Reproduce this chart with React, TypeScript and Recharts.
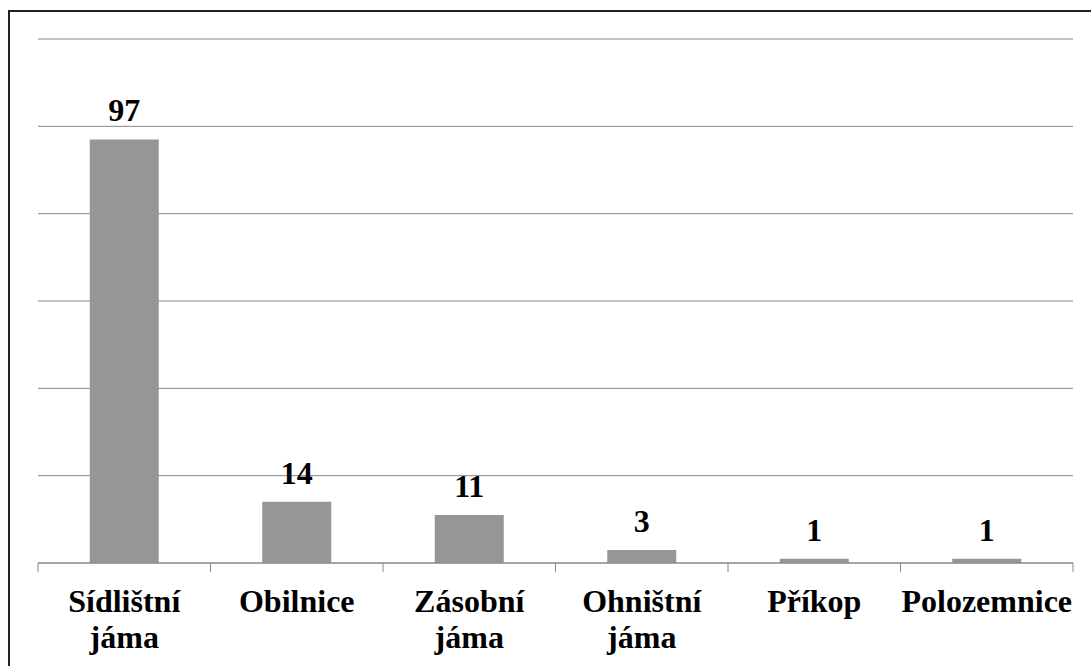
import React from 'react';
import { BarChart, Bar, XAxis, YAxis, CartesianGrid, LabelList } from 'recharts';

const categories = ['Sídlištní jáma', 'Obilnice', 'Zásobní jáma', 'Ohništní jáma', 'Příkop', 'Polozemnice'];
const counts = [97, 14, 11, 3, 1, 1];
const yTicks = [0, 20, 40, 60, 80, 100, 120];

const data = categories.map((name, i) => ({ name, value: counts[i] }));

const W = 1081;
const H = 654;
const margin = { top: 27, right: 18, left: 28, bottom: 23 };
const band = (W - margin.left - margin.right) / categories.length;
const FONT = 'Liberation Serif';

const Tick = (props: any) => {
  const { x, y, payload, index } = props;
  const words = String(payload.value).split(' ');
  const axisY = y - 8;
  return (
    <g>
      <line x1={x - band / 2} x2={x - band / 2} y1={axisY} y2={axisY + 9} stroke="#868686" strokeWidth={1} />
      {index === categories.length - 1 && (
        <line x1={x + band / 2} x2={x + band / 2} y1={axisY} y2={axisY + 9} stroke="#868686" strokeWidth={1} />
      )}
      <text x={x} y={axisY + 49} textAnchor="middle" fontFamily={FONT} fontWeight="bold" fontSize={32} fill="#000">
        {words.map((w, i) => (
          <tspan key={i} x={x} dy={i === 0 ? 0 : 36}>{w}</tspan>
        ))}
      </text>
    </g>
  );
};

export default function App() {
  return (
    <div style={{ position: 'absolute', left: 8, top: 10, width: 1083, height: 656, borderLeft: '2px solid #222', borderTop: '2px solid #222', background: '#fff' }}>
      <style>{`body{margin:0;overflow:hidden;background:#fff}`}</style>
      <BarChart width={W} height={H} data={data} margin={margin} barCategoryGap="30%">
        <CartesianGrid vertical={false} stroke="#868686" strokeWidth={1} />
        <YAxis hide domain={[0, 120]} ticks={yTicks} />
        <XAxis
          dataKey="name"
          interval={0}
          height={80}
          axisLine={{ stroke: '#868686', strokeWidth: 1 }}
          tickLine={false}
          tick={<Tick />}
          tickSize={0}
          tickMargin={8}
        />
        <Bar dataKey="value" fill="#969696" isAnimationActive={false}>
          <LabelList dataKey="value" position="top" offset={18} fontFamily={FONT} fontWeight="bold" fontSize={32} fill="#000" />
        </Bar>
      </BarChart>
    </div>
  );
}
